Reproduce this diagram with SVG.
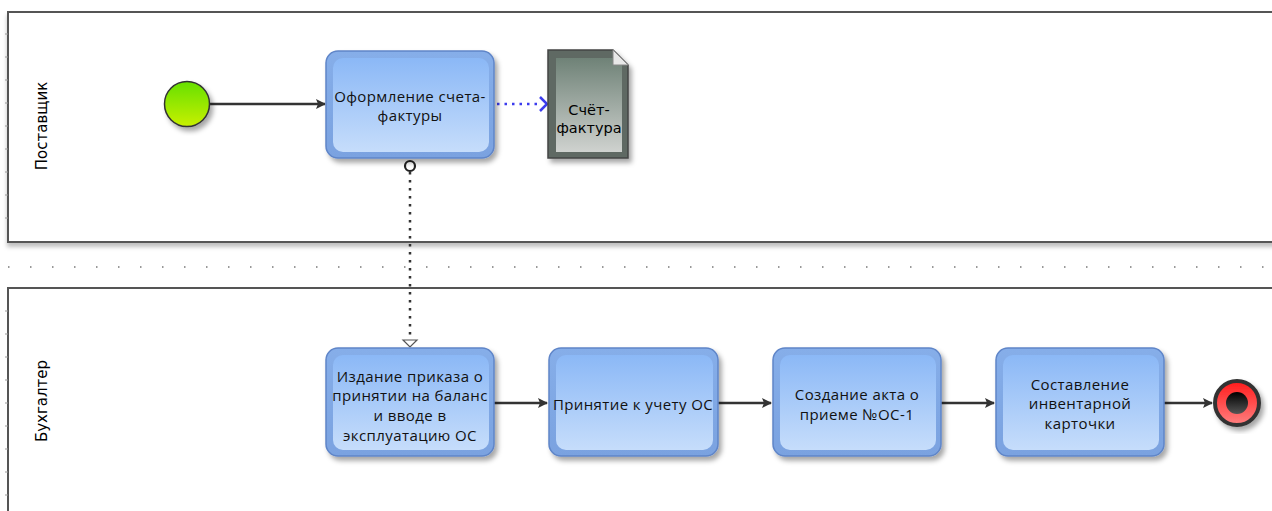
<svg xmlns="http://www.w3.org/2000/svg" width="1272" height="511" viewBox="0 0 1272 511">
<defs>
<style>
.lane{fill:#fff;stroke:#555;stroke-width:2}
.lbl{font-family:"DejaVu Sans",Verdana,sans-serif;font-size:15px;fill:#000}
.dt{font-family:"DejaVu Sans",Verdana,sans-serif;font-size:14.5px;fill:#000;text-anchor:middle}
.tt{font-family:"Open Sans","Noto Sans",sans-serif;font-size:15px;letter-spacing:0.4px;fill:#111;text-anchor:middle}
.seq{stroke:#333;stroke-width:2.5;fill:none}
.tick{stroke:#999;stroke-width:1}
.outer{fill:url(#gOuter);stroke:#5f85c8;stroke-width:1.5}
.inner{fill:url(#gInner)}
</style>
<linearGradient id="gOuter" x1="0" y1="0" x2="0" y2="1"><stop offset="0" stop-color="#86aee9"/><stop offset="1" stop-color="#7aa2e0"/></linearGradient>
<linearGradient id="gInner" x1="0" y1="0" x2="0" y2="1"><stop offset="0" stop-color="#8bb8f6"/><stop offset="1" stop-color="#c6ddfb"/></linearGradient>
<linearGradient id="gStart" x1="0" y1="0" x2="0" y2="1"><stop offset="0" stop-color="#66e000"/><stop offset="1" stop-color="#c8f000"/></linearGradient>
<linearGradient id="gEnd" x1="0" y1="0" x2="0" y2="1"><stop offset="0" stop-color="#ff1a1a"/><stop offset="1" stop-color="#ff8080"/></linearGradient>
<linearGradient id="gEndIn" x1="0" y1="0" x2="0" y2="1"><stop offset="0" stop-color="#000"/><stop offset="1" stop-color="#555"/></linearGradient>
<linearGradient id="gDoc" x1="0" y1="0" x2="0" y2="1"><stop offset="0" stop-color="#6f8277"/><stop offset="1" stop-color="#cfd2cf"/></linearGradient>
<filter id="sh" x="-10%" y="-10%" width="130%" height="130%"><feDropShadow dx="3" dy="4" stdDeviation="2.5" flood-color="#000" flood-opacity="0.35"/></filter>
<filter id="lsh" x="-5%" y="-5%" width="110%" height="115%"><feDropShadow dx="0" dy="4" stdDeviation="2" flood-color="#000" flood-opacity="0.25"/></filter>
<marker id="arr" viewBox="0 0 10 10" refX="9" refY="5" markerWidth="4" markerHeight="4" orient="auto" markerUnits="strokeWidth"><path d="M0,0 L10,5 L0,10 L2,5 Z" fill="#333"/></marker>
</defs>

<g id="lanes">
<rect class="lane" x="8" y="12" width="1280" height="230" filter="url(#lsh)"/>
<rect class="lane" x="8" y="288" width="1280" height="240"/>
<g class="tick">
<path d="M5 34h3M5 57h3M5 80h3M5 103h3M5 126h3M5 149h3M5 172h3M5 195h3M5 218h3"/>
<path d="M5 311h3M5 334h3M5 357h3M5 380h3M5 403h3M5 426h3M5 449h3M5 472h3M5 495h3"/>
</g>
<line x1="8" y1="267" x2="1272" y2="267" stroke="#999" stroke-width="2" stroke-dasharray="1.5 20.5"/>
<text class="lbl" transform="translate(47,126) rotate(-90)" text-anchor="middle">Поставщик</text>
<text class="lbl" transform="translate(47,401) rotate(-90)" text-anchor="middle">Бухгалтер</text>
</g>

<g id="connectors">
<line class="seq" x1="210" y1="104" x2="325" y2="104" marker-end="url(#arr)"/>
<line x1="497" y1="104" x2="538" y2="104" stroke="#3b3bee" stroke-width="2.5" stroke-dasharray="2.5 5"/>
<path d="M540 97 L547 104 L540 111" fill="none" stroke="#3b3bee" stroke-width="2.5"/>
<line x1="410" y1="172" x2="410" y2="339" stroke="#333" stroke-width="2.5" stroke-dasharray="2.5 5.5"/>
<path d="M403 340 L417 340 L410 347 Z" fill="#fff" stroke="#555" stroke-width="1.2"/>
<circle cx="410" cy="166" r="5" fill="#fff" stroke="#222" stroke-width="2.2"/>
<line class="seq" x1="494" y1="403" x2="547" y2="403" marker-end="url(#arr)"/>
<line class="seq" x1="718" y1="403" x2="771" y2="403" marker-end="url(#arr)"/>
<line class="seq" x1="941" y1="403" x2="994" y2="403" marker-end="url(#arr)"/>
<line class="seq" x1="1164" y1="403" x2="1212" y2="403" marker-end="url(#arr)"/>
</g>

<g id="start">
<circle cx="187" cy="104" r="22.5" fill="url(#gStart)" stroke="#333" stroke-width="1.5" filter="url(#sh)"/>
</g>

<g id="task1">
<rect class="outer" x="326" y="51" width="168" height="107" rx="12" filter="url(#sh)"/>
<rect class="inner" x="333" y="58" width="156" height="94" rx="10"/>
<text class="tt" x="410" y="102">Оформление счета-</text>
<text class="tt" x="410" y="121">фактуры</text>
</g>

<g id="doc">
<path d="M548 50 H613 L628 65 V158 H548 Z" fill="#5f6963" stroke="#444" stroke-width="1.5" filter="url(#sh)"/>
<rect x="556" y="58" width="66" height="94" fill="url(#gDoc)"/>
<path d="M613 50 L613 65 L628 65 Z" fill="#e8e8e8" stroke="#888" stroke-width="1"/>
<text class="dt" x="589" y="115">Счёт-</text>
<text class="dt" x="589" y="133">фактура</text>
</g>

<g id="taskA">
<rect class="outer" x="326" y="348" width="168" height="108" rx="12" filter="url(#sh)"/>
<rect class="inner" x="333" y="355" width="156" height="95" rx="10"/>
<text class="tt" x="410" y="382">Издание приказа о</text>
<text class="tt" x="410" y="401">принятии на баланс</text>
<text class="tt" x="410" y="421">и вводе в</text>
<text class="tt" x="410" y="441">эксплуатацию ОС</text>
</g>

<g id="taskB">
<rect class="outer" x="549" y="348" width="169" height="108" rx="12" filter="url(#sh)"/>
<rect class="inner" x="556" y="355" width="157" height="95" rx="10"/>
<text class="tt" x="633" y="410">Принятие к учету ОС</text>
</g>

<g id="taskC">
<rect class="outer" x="773" y="348" width="168" height="108" rx="12" filter="url(#sh)"/>
<rect class="inner" x="780" y="355" width="156" height="95" rx="10"/>
<text class="tt" x="857" y="400">Создание акта о</text>
<text class="tt" x="857" y="420">приеме №ОС-1</text>
</g>

<g id="taskD">
<rect class="outer" x="996" y="348" width="168" height="108" rx="12" filter="url(#sh)"/>
<rect class="inner" x="1003" y="355" width="156" height="95" rx="10"/>
<text class="tt" x="1080" y="390">Составление</text>
<text class="tt" x="1080" y="409">инвентарной</text>
<text class="tt" x="1080" y="429">карточки</text>
</g>

<g id="end">
<circle cx="1237" cy="403" r="22" fill="url(#gEnd)" stroke="#333" stroke-width="4" filter="url(#sh)"/>
<circle cx="1237" cy="403" r="11" fill="url(#gEndIn)"/>
</g>
</svg>
